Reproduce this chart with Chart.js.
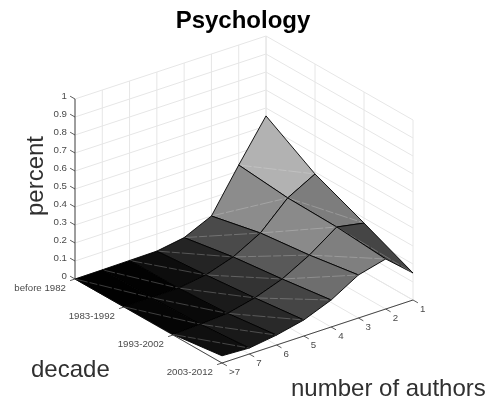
<!DOCTYPE html>
<html>
<head>
  <meta charset="utf-8">
  <title>Psychology</title>
  <script src="https://cdn.jsdelivr.net/npm/chart.js@4/dist/chart.umd.js"></script>
  <style>
    html, body { margin: 0; padding: 0; background: #fff; }
    canvas { display: block; }
  </style>
</head>
<body>
  <canvas id="myChart" width="486" height="404"></canvas>
  <script type="text/javascript">
    var authorLabels = ["1", "2", "3", "4", "5", "6", "7", ">7"];
    var decadeLabels = ["before 1982", "1983-1992", "1993-2002", "2003-2012"];
    var percentTicks = [0, 0.1, 0.2, 0.3, 0.4, 0.5, 0.6, 0.7, 0.8, 0.9, 1];

    // share of papers by number of authors, one list per decade
    var before1982 = [0.556, 0.333, 0.100, 0.030, 0.005, 0.003, 0.001, 0.000];
    var from1983 = [0.389, 0.306, 0.161, 0.078, 0.028, 0.005, 0.002, 0.001];
    var from1993 = [0.272, 0.300, 0.194, 0.111, 0.056, 0.020, 0.010, 0.003];
    var from2003 = [0.150, 0.278, 0.239, 0.150, 0.089, 0.055, 0.033, 0.040];
    var decades = [before1982, from1983, from1993, from2003];

    // the 3d view: where the back floor corner lands and what one step on each axis moves
    var VIEW = { x0: 266, y0: 216, ax: -191 / 7, ay: 9, dx: 49, dy: 28, zy: -180 };
    function project(a, d, z) {
      return { x: VIEW.x0 + VIEW.ax * a + VIEW.dx * d, y: VIEW.y0 + VIEW.ay * a + VIEW.dy * d + VIEW.zy * z };
    }

    var lastA = authorLabels.length - 1;
    var lastD = decadeLabels.length - 1;
    var datasets = [];

    function addLine(points, color, width, extra) {
      var ds = {
        data: points,
        showLine: true,
        fill: false,
        borderColor: color,
        borderWidth: width,
        pointRadius: 0,
        tension: 0,
        clip: false,
        order: -datasets.length
      };
      for (var key in extra) ds[key] = extra[key];
      datasets.push(ds);
    }

    // walls and floor
    var GRID = "#e6e6e6";
    percentTicks.forEach(function(z) {
      addLine([project(lastA, 0, z), project(0, 0, z), project(0, lastD, z)], GRID, 1);
    });
    authorLabels.forEach(function(l, a) {
      addLine([project(a, 0, 0), project(a, 0, 1)], GRID, 1);
      addLine([project(a, 0, 0), project(a, lastD, 0)], GRID, 1);
    });
    decadeLabels.forEach(function(l, d) {
      addLine([project(0, d, 0), project(0, d, 1)], GRID, 1);
      addLine([project(0, d, 0), project(lastA, d, 0)], GRID, 1);
    });

    // axes and ticks
    var AXIS = "#333333";
    addLine([project(lastA, 0, 0), project(lastA, 0, 1)], "#707070", 1.3);
    addLine([project(lastA, 0, 0), project(lastA, lastD, 0)], AXIS, 0.9);
    addLine([project(lastA, lastD, 0), project(0, lastD, 0)], AXIS, 0.9);
    percentTicks.forEach(function(z) {
      addLine([project(lastA, 0, z), project(lastA, -0.1, z)], AXIS, 0.8);
    });
    decadeLabels.forEach(function(l, d) {
      addLine([project(lastA, d, 0), project(lastA + 0.18, d, 0)], AXIS, 0.8);
    });
    authorLabels.forEach(function(l, a) {
      addLine([project(a, lastD, 0), project(a, lastD + 0.1, 0)], AXIS, 0.8);
    });

    // surface, back to front. gray colormap scaled to the largest value
    var zMax = Math.max.apply(null, decades.map(function(row) { return Math.max.apply(null, row); }));
    function grayFor(z) {
      var g = Math.round(255 * z / zMax);
      return "rgb(" + g + "," + g + "," + g + ")";
    }
    for (var a = 0; a < lastA; a++) {
      for (var d = 0; d < lastD; d++) {
        var p1 = project(a, d, decades[d][a]);
        var p2 = project(a, d + 1, decades[d + 1][a]);
        var p3 = project(a + 1, d + 1, decades[d + 1][a + 1]);
        var p4 = project(a + 1, d, decades[d][a + 1]);
        addLine([p1, p2, p3, p4, p1], "#000000", 0.9, {
          fill: "shape",
          backgroundColor: grayFor(decades[d + 1][a]),
          borderJoinStyle: "round"
        });
        // faint seam where the renderer split the cell in two
        addLine([p4, p2], "rgba(235,235,235,0.5)", 0.5, { borderDash: [13, 2, 8, 2] });
      }
    }

    function scaleXY(chart, x, y) {
      return { x: chart.scales.x.getPixelForValue(x), y: chart.scales.y.getPixelForValue(y) };
    }

    var axisText = {
      id: "axisText",
      afterDatasetsDraw: function(chart) {
        var ctx = chart.ctx;
        function text(str, pt, dx, dy, align) {
          var p = scaleXY(chart, pt.x, pt.y);
          ctx.textAlign = align;
          ctx.fillText(str, p.x + dx, p.y + dy);
        }
        ctx.save();
        ctx.fillStyle = "#4a4a4a";
        ctx.textBaseline = "middle";
        ctx.font = "9.7px 'Liberation Sans'";
        percentTicks.forEach(function(z) {
          text(String(z), project(lastA, 0, z), -8, -3, "right");
        });
        decadeLabels.forEach(function(l, d) {
          text(l, project(lastA, d, 0), -9, 9, "right");
        });
        authorLabels.forEach(function(l, a) {
          text(l, project(a, lastD, 0), 7, 9, "left");
        });

        ctx.fillStyle = "#303030";
        ctx.textBaseline = "alphabetic";
        ctx.textAlign = "left";
        ctx.font = "24px 'Liberation Sans'";
        ctx.fillText("decade", 31, 377);
        ctx.fillText("number of authors", 291, 396);
        ctx.translate(43, 176);
        ctx.rotate(-Math.PI / 2);
        ctx.textAlign = "center";
        ctx.fillText("percent", 0, 0);
        ctx.restore();
      }
    };

    var ctx = document.getElementById("myChart");
    var myChart = new Chart(ctx, {
      type: "scatter",
      data: { datasets: datasets },
      plugins: [axisText],
      options: {
        responsive: false,
        animation: false,
        events: [],
        layout: { padding: 0 },
        plugins: {
          legend: { display: false },
          tooltip: { enabled: false },
          title: {
            display: true,
            text: "Psychology",
            color: "#000000",
            padding: { top: 9, bottom: 1 },
            font: { family: "'Liberation Sans'", size: 24, weight: "bold", lineHeight: 1 }
          }
        },
        scales: {
          x: { type: "linear", display: false, min: 0, max: 486 },
          y: { type: "linear", display: false, min: 34, max: 404, reverse: true }
        }
      }
    });
  </script>
</body>
</html>
